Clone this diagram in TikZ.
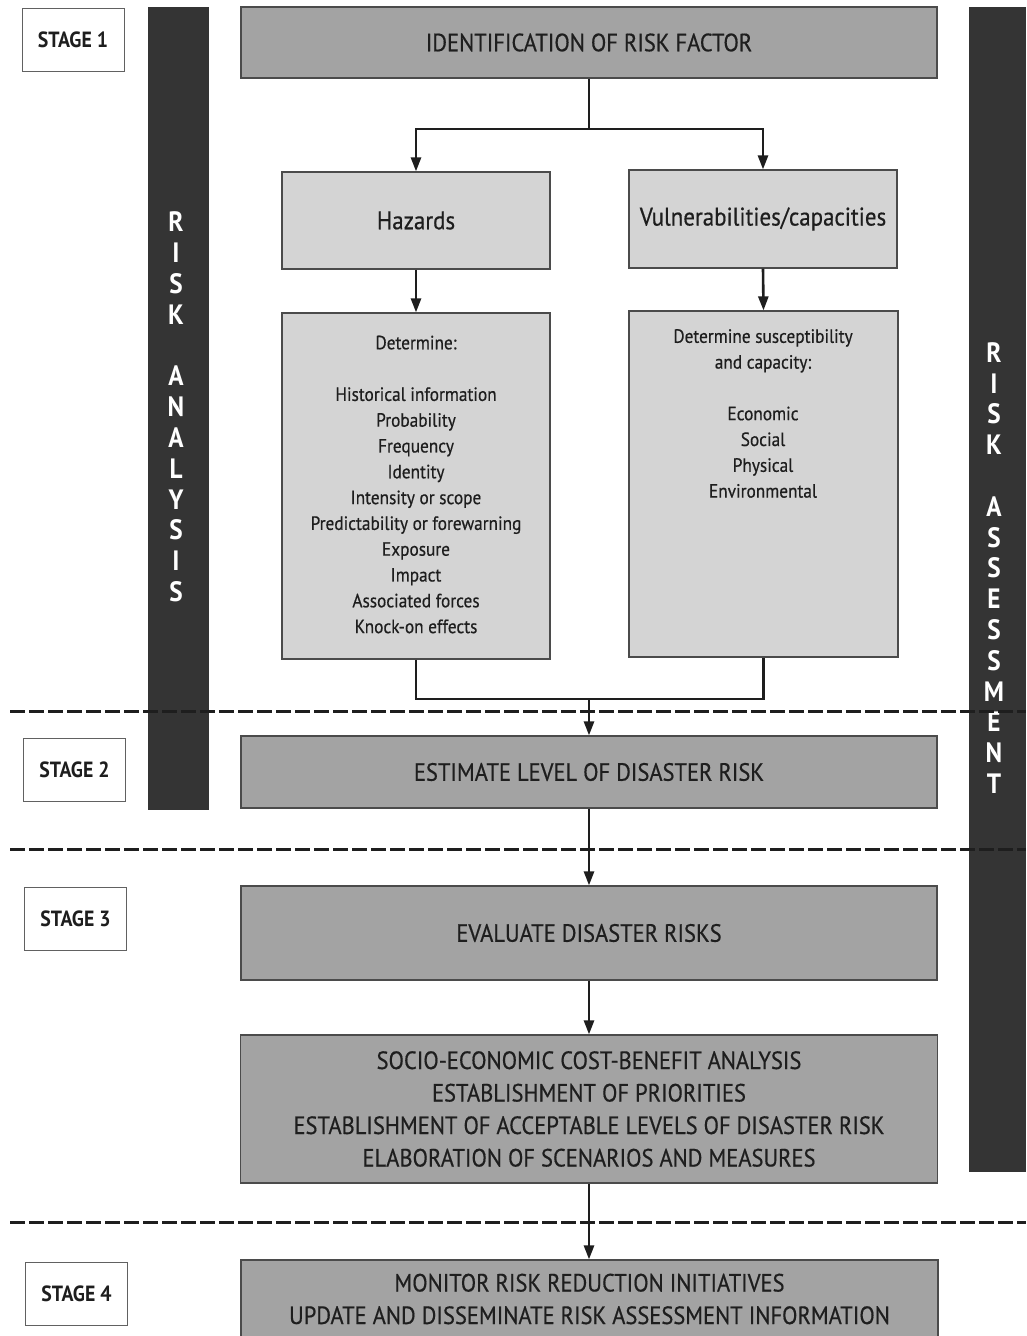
\documentclass[tikz,border=0pt]{standalone}
\usepackage{fontspec}
\setmainfont{PT Sans}[FakeStretch=0.9, UprightFeatures={FakeBold=0.5}]
\usetikzlibrary{arrows.meta}
\definecolor{boxdark}{RGB}{163,163,163}
\definecolor{boxlight}{RGB}{212,212,212}
\definecolor{bardark}{RGB}{52,52,52}
\definecolor{ink}{RGB}{30,30,30}
\begin{document}
\begin{tikzpicture}[x=1pt,y=-1pt,
  mainbox/.style={draw=ink!80, line width=1.2pt, fill=boxdark, text=ink,
    align=center, inner sep=0pt, font=\fontsize{25}{32.5}\selectfont},
  subbox/.style={draw=ink!80, line width=1.2pt, fill=boxlight, text=ink,
    align=center, inner sep=0pt},
  stagebox/.style={draw=ink!70, line width=1pt, fill=white, text=ink,
    minimum width=102pt, minimum height=63pt, inner sep=0pt,
    font=\bfseries\fontsize{22}{24}\selectfont},
  bar/.style={fill=bardark, draw=none, inner sep=0pt},
  barletters/.style={text=white, align=center, inner sep=0pt,
    font=\bfseries\fontsize{28}{30.8}\selectfont},
  listtext/.style={text=ink, align=center, inner sep=0pt,
    font=\fontsize{19.2}{25.8}\selectfont},
  flow/.style={line width=2.6pt, draw=ink},
  arrow/.style={flow, -{Triangle[length=14pt,width=10pt]}},
  cut/.style={line width=3pt, draw=ink, dash pattern=on 15pt off 4pt}
]
\useasboundingbox[fill=white] (0,0) rectangle (1026,1336);

% side bars
\node[bar, minimum width=61pt, minimum height=803pt] (leftbar) at (178.5,408.5) {};
\node[barletters] (leftletters) at (176,407)
  {R\\I\\S\\K\\[30.8pt]A\\N\\A\\L\\Y\\S\\I\\S};
\node[bar, minimum width=57pt, minimum height=1165pt] (rightbar) at (997.5,589.5) {};
\node[barletters] (rightletters) at (994,568)
  {R\\I\\S\\K\\[30.8pt]A\\S\\S\\E\\S\\S\\M\\E\\N\\T};

% stage labels
\node[stagebox] (s1) at (73,39.5) {STAGE 1};
\node[stagebox] (s2) at (74.5,770) {STAGE 2};
\node[stagebox] (s3) at (75.5,918.5) {STAGE 3};
\node[stagebox] (s4) at (76.5,1293.5) {STAGE 4};

% stage 1
\node[mainbox, minimum width=696pt, minimum height=71pt] (ident) at (589,42.5)
  {IDENTIFICATION OF RISK FACTOR};
\node[subbox, minimum width=268pt, minimum height=97pt,
  font=\fontsize{25.5}{30}\selectfont] (haz) at (416,220.5) {Hazards};
\node[subbox, minimum width=268pt, minimum height=98pt,
  font=\fontsize{25.5}{30}\selectfont] (vul) at (763,219) {Vulnerabilities/capacities};
\node[subbox, minimum width=268pt, minimum height=346pt] (det) at (416,486) {};
\node[listtext] (detText) at (416,484.5)
  {Determine:\\[25.8pt]Historical information\\Probability\\Frequency\\Identity\\
   Intensity or scope\\Predictability or forewarning\\Exposure\\Impact\\
   Associated forces\\Knock-on effects};
\node[subbox, minimum width=269pt, minimum height=346pt] (sus) at (763.5,484) {};
\node[listtext, anchor=north] (susText) at (763,329)
  {Determine susceptibility\\and capacity:\\[25.8pt]Economic\\Social\\Physical\\Environmental};

% stages 2 to 4
\node[mainbox, minimum width=696pt, minimum height=72pt] (est) at (589,772)
  {ESTIMATE LEVEL OF DISASTER RISK};
\node[mainbox, minimum width=696pt, minimum height=94pt] (eval) at (589,933)
  {EVALUATE DISASTER RISKS};
\node[mainbox, minimum width=697pt, minimum height=148pt] (socio) at (589,1109)
  {SOCIO-ECONOMIC COST-BENEFIT ANALYSIS\\ESTABLISHMENT OF PRIORITIES\\
   ESTABLISHMENT OF ACCEPTABLE LEVELS OF DISASTER RISK\\
   ELABORATION OF SCENARIOS AND MEASURES};
\node[mainbox, minimum width=697pt, minimum height=78pt] (mon) at (589.5,1299)
  {MONITOR RISK REDUCTION INITIATIVES\\UPDATE AND DISSEMINATE RISK ASSESSMENT INFORMATION};

% connectors
\coordinate (split) at (ident.south |- 0,129);
\coordinate (merge) at (est.north |- 0,699);
\draw[flow] (ident.south) -- (split);
\draw[arrow] (split) -| (haz.north);
\draw[arrow] (split) -| (vul.north);
\draw[arrow] (haz.south) -- (det.north);
\draw[arrow] (vul.south) -- (sus.north);
\draw[flow] (det.south) |- (merge) -| (sus.south);
\draw[arrow] (merge) -- (est.north);
\draw[arrow] (est.south) -- (eval.north);
\draw[arrow] (eval.south) -- (socio.north);
\draw[arrow] (socio.south) -- (socio.south |- mon.north);

% stage separators
\draw[cut] (10,711) -- (1026,711);
\draw[cut] (10,849) -- (1026,849);
\draw[cut] (10,1222) -- (1026,1222);
\end{tikzpicture}
\end{document}
